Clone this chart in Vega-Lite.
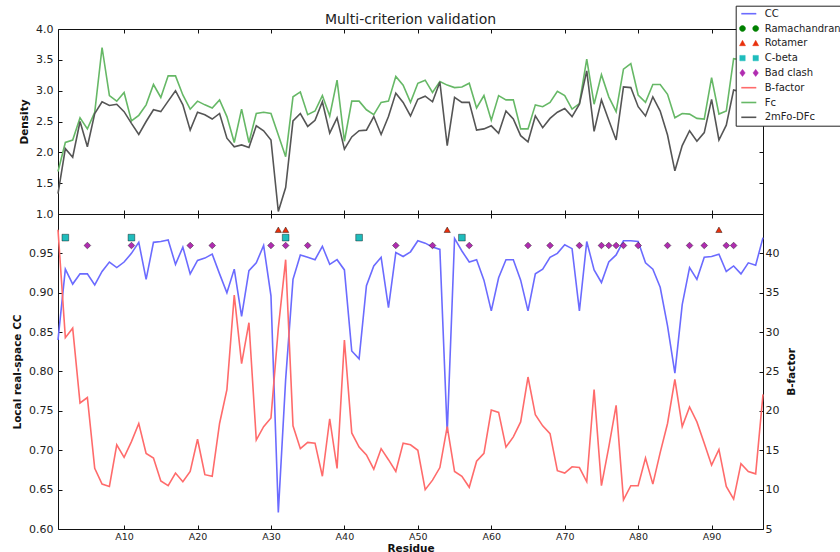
{
  "$schema": "https://vega.github.io/schema/vega-lite/v6.json",
  "autosize": {"type": "none"},
  "padding": {"left": 58, "top": 29, "right": 782, "bottom": 523},
  "background": "white",
  "bounds": "flush",
  "datasets": {
    "res": [
      {"residue":1,"fc":1.69,"twofofc":1.33,"cc":0.840,"bfac":43.0},
      {"residue":2,"fc":2.16,"twofofc":2.06,"cc":0.930,"bfac":29.3},
      {"residue":3,"fc":2.20,"twofofc":1.92,"cc":0.911,"bfac":30.5},
      {"residue":4,"fc":2.56,"twofofc":2.50,"cc":0.924,"bfac":21.0},
      {"residue":5,"fc":2.38,"twofofc":2.09,"cc":0.924,"bfac":21.7},
      {"residue":6,"fc":2.65,"twofofc":2.63,"cc":0.910,"bfac":12.7},
      {"residue":7,"fc":3.70,"twofofc":2.82,"cc":0.927,"bfac":10.7},
      {"residue":8,"fc":2.92,"twofofc":2.76,"cc":0.939,"bfac":10.4},
      {"residue":9,"fc":2.83,"twofofc":2.78,"cc":0.932,"bfac":15.7},
      {"residue":10,"fc":2.97,"twofofc":2.66,"cc":0.939,"bfac":14.1},
      {"residue":11,"fc":2.51,"twofofc":2.47,"cc":0.950,"bfac":16.1},
      {"residue":12,"fc":2.60,"twofofc":2.29,"cc":0.964,"bfac":18.4},
      {"residue":13,"fc":2.77,"twofofc":2.50,"cc":0.917,"bfac":14.6},
      {"residue":14,"fc":3.10,"twofofc":2.69,"cc":0.964,"bfac":14.0},
      {"residue":15,"fc":2.89,"twofofc":2.66,"cc":0.965,"bfac":11.1},
      {"residue":16,"fc":3.24,"twofofc":2.83,"cc":0.967,"bfac":10.5},
      {"residue":17,"fc":3.24,"twofofc":3.00,"cc":0.936,"bfac":12.1},
      {"residue":18,"fc":2.93,"twofofc":2.77,"cc":0.958,"bfac":11.0},
      {"residue":19,"fc":2.70,"twofofc":2.36,"cc":0.924,"bfac":12.3},
      {"residue":20,"fc":2.83,"twofofc":2.65,"cc":0.941,"bfac":16.4},
      {"residue":21,"fc":2.77,"twofofc":2.61,"cc":0.944,"bfac":11.9},
      {"residue":22,"fc":2.72,"twofofc":2.54,"cc":0.949,"bfac":11.7},
      {"residue":23,"fc":2.85,"twofofc":2.63,"cc":0.924,"bfac":18.4},
      {"residue":24,"fc":2.58,"twofofc":2.23,"cc":0.900,"bfac":22.7},
      {"residue":25,"fc":2.16,"twofofc":2.09,"cc":0.930,"bfac":34.7},
      {"residue":26,"fc":2.70,"twofofc":2.12,"cc":0.870,"bfac":26.0},
      {"residue":27,"fc":2.16,"twofofc":2.08,"cc":0.928,"bfac":31.2},
      {"residue":28,"fc":2.63,"twofofc":2.43,"cc":0.938,"bfac":16.3},
      {"residue":29,"fc":2.65,"twofofc":2.35,"cc":0.960,"bfac":18.0},
      {"residue":30,"fc":2.63,"twofofc":2.20,"cc":0.896,"bfac":19.1},
      {"residue":31,"fc":2.28,"twofofc":1.04,"cc":0.621,"bfac":30.5},
      {"residue":32,"fc":1.93,"twofofc":1.43,"cc":0.790,"bfac":39.2},
      {"residue":33,"fc":2.90,"twofofc":2.51,"cc":0.917,"bfac":18.1},
      {"residue":34,"fc":2.98,"twofofc":2.63,"cc":0.948,"bfac":15.2},
      {"residue":35,"fc":2.61,"twofofc":2.42,"cc":0.945,"bfac":16.0},
      {"residue":36,"fc":2.67,"twofofc":2.52,"cc":0.942,"bfac":15.9},
      {"residue":37,"fc":2.92,"twofofc":2.82,"cc":0.959,"bfac":11.7},
      {"residue":38,"fc":2.59,"twofofc":2.31,"cc":0.936,"bfac":19.0},
      {"residue":39,"fc":3.17,"twofofc":2.56,"cc":0.942,"bfac":12.7},
      {"residue":40,"fc":2.18,"twofofc":2.05,"cc":0.929,"bfac":29.0},
      {"residue":41,"fc":2.83,"twofofc":2.25,"cc":0.826,"bfac":17.2},
      {"residue":42,"fc":2.83,"twofofc":2.35,"cc":0.816,"bfac":15.4},
      {"residue":43,"fc":2.69,"twofofc":2.36,"cc":0.909,"bfac":14.4},
      {"residue":44,"fc":2.61,"twofofc":2.58,"cc":0.934,"bfac":12.6},
      {"residue":45,"fc":2.81,"twofofc":2.29,"cc":0.945,"bfac":15.2},
      {"residue":46,"fc":2.83,"twofofc":2.58,"cc":0.881,"bfac":13.8},
      {"residue":47,"fc":3.23,"twofofc":2.96,"cc":0.951,"bfac":12.3},
      {"residue":48,"fc":3.09,"twofofc":2.81,"cc":0.946,"bfac":15.9},
      {"residue":49,"fc":2.81,"twofofc":2.59,"cc":0.952,"bfac":15.7},
      {"residue":50,"fc":3.12,"twofofc":2.86,"cc":0.966,"bfac":15.0},
      {"residue":51,"fc":3.17,"twofofc":2.91,"cc":0.963,"bfac":10.0},
      {"residue":52,"fc":2.97,"twofofc":2.82,"cc":0.958,"bfac":11.2},
      {"residue":53,"fc":3.15,"twofofc":3.14,"cc":0.955,"bfac":12.8},
      {"residue":54,"fc":3.09,"twofofc":2.11,"cc":0.722,"bfac":18.0},
      {"residue":55,"fc":3.05,"twofofc":2.89,"cc":0.969,"bfac":12.3},
      {"residue":56,"fc":3.06,"twofofc":2.81,"cc":0.953,"bfac":11.7},
      {"residue":57,"fc":3.12,"twofofc":2.81,"cc":0.939,"bfac":10.3},
      {"residue":58,"fc":2.72,"twofofc":2.36,"cc":0.942,"bfac":13.6},
      {"residue":59,"fc":2.92,"twofofc":2.38,"cc":0.916,"bfac":14.6},
      {"residue":60,"fc":2.52,"twofofc":2.43,"cc":0.877,"bfac":20.1},
      {"residue":61,"fc":2.92,"twofofc":2.31,"cc":0.919,"bfac":19.8},
      {"residue":62,"fc":2.85,"twofofc":2.67,"cc":0.942,"bfac":15.4},
      {"residue":63,"fc":2.85,"twofofc":2.54,"cc":0.942,"bfac":16.7},
      {"residue":64,"fc":2.38,"twofofc":2.27,"cc":0.916,"bfac":18.6},
      {"residue":65,"fc":2.38,"twofofc":2.17,"cc":0.877,"bfac":24.3},
      {"residue":66,"fc":2.77,"twofofc":2.59,"cc":0.924,"bfac":19.5},
      {"residue":67,"fc":2.74,"twofofc":2.40,"cc":0.930,"bfac":18.1},
      {"residue":68,"fc":2.81,"twofofc":2.55,"cc":0.945,"bfac":17.1},
      {"residue":69,"fc":2.99,"twofofc":2.65,"cc":0.950,"bfac":12.4},
      {"residue":70,"fc":2.92,"twofofc":2.71,"cc":0.961,"bfac":12.1},
      {"residue":71,"fc":2.70,"twofofc":2.58,"cc":0.956,"bfac":12.9},
      {"residue":72,"fc":2.79,"twofofc":2.78,"cc":0.877,"bfac":12.8},
      {"residue":73,"fc":3.51,"twofofc":3.32,"cc":0.965,"bfac":11.0},
      {"residue":74,"fc":2.78,"twofofc":2.34,"cc":0.929,"bfac":22.7},
      {"residue":75,"fc":3.26,"twofofc":2.85,"cc":0.913,"bfac":10.5},
      {"residue":76,"fc":2.90,"twofofc":2.52,"cc":0.939,"bfac":15.4},
      {"residue":77,"fc":2.66,"twofofc":2.20,"cc":0.948,"bfac":20.7},
      {"residue":78,"fc":3.35,"twofofc":3.06,"cc":0.966,"bfac":8.7},
      {"residue":79,"fc":3.44,"twofofc":3.05,"cc":0.966,"bfac":10.5},
      {"residue":80,"fc":2.93,"twofofc":2.74,"cc":0.965,"bfac":10.5},
      {"residue":81,"fc":2.81,"twofofc":2.59,"cc":0.938,"bfac":14.0},
      {"residue":82,"fc":3.10,"twofofc":2.90,"cc":0.930,"bfac":10.7},
      {"residue":83,"fc":3.10,"twofofc":2.67,"cc":0.907,"bfac":14.7},
      {"residue":84,"fc":2.94,"twofofc":2.28,"cc":0.858,"bfac":18.4},
      {"residue":85,"fc":2.56,"twofofc":1.70,"cc":0.798,"bfac":24.0},
      {"residue":86,"fc":2.63,"twofofc":2.11,"cc":0.885,"bfac":18.0},
      {"residue":87,"fc":2.62,"twofofc":2.35,"cc":0.932,"bfac":20.5},
      {"residue":88,"fc":2.55,"twofofc":2.18,"cc":0.917,"bfac":18.6},
      {"residue":89,"fc":2.54,"twofofc":2.32,"cc":0.945,"bfac":15.9},
      {"residue":90,"fc":3.21,"twofofc":2.86,"cc":0.946,"bfac":13.1},
      {"residue":91,"fc":2.62,"twofofc":2.20,"cc":0.949,"bfac":15.1},
      {"residue":92,"fc":2.67,"twofofc":2.44,"cc":0.927,"bfac":10.4},
      {"residue":93,"fc":3.52,"twofofc":3.01,"cc":0.934,"bfac":8.8},
      {"residue":94,"fc":3.50,"twofofc":2.98,"cc":0.924,"bfac":13.3},
      {"residue":95,"fc":3.45,"twofofc":2.95,"cc":0.938,"bfac":12.3},
      {"residue":96,"fc":3.55,"twofofc":3.05,"cc":0.935,"bfac":12.0},
      {"residue":97,"fc":3.60,"twofofc":3.10,"cc":0.970,"bfac":22.1}
    ],
    "flags": [
      {"residue":31,"kind":"Rotamer"},
      {"residue":32,"kind":"Rotamer"},
      {"residue":54,"kind":"Rotamer"},
      {"residue":91,"kind":"Rotamer"},
      {"residue":2,"kind":"C-beta"},
      {"residue":11,"kind":"C-beta"},
      {"residue":32,"kind":"C-beta"},
      {"residue":42,"kind":"C-beta"},
      {"residue":56,"kind":"C-beta"},
      {"residue":5,"kind":"Bad clash"},
      {"residue":11,"kind":"Bad clash"},
      {"residue":19,"kind":"Bad clash"},
      {"residue":22,"kind":"Bad clash"},
      {"residue":30,"kind":"Bad clash"},
      {"residue":32,"kind":"Bad clash"},
      {"residue":35,"kind":"Bad clash"},
      {"residue":47,"kind":"Bad clash"},
      {"residue":52,"kind":"Bad clash"},
      {"residue":57,"kind":"Bad clash"},
      {"residue":65,"kind":"Bad clash"},
      {"residue":68,"kind":"Bad clash"},
      {"residue":72,"kind":"Bad clash"},
      {"residue":75,"kind":"Bad clash"},
      {"residue":76,"kind":"Bad clash"},
      {"residue":77,"kind":"Bad clash"},
      {"residue":78,"kind":"Bad clash"},
      {"residue":80,"kind":"Bad clash"},
      {"residue":84,"kind":"Bad clash"},
      {"residue":87,"kind":"Bad clash"},
      {"residue":89,"kind":"Bad clash"},
      {"residue":92,"kind":"Bad clash"},
      {"residue":93,"kind":"Bad clash"}
    ]
  },
  "spacing": 0,
  "vconcat": [
    {
      "width": 705,
      "height": 185,
      "title": {"text": "Multi-criterion validation", "fontSize": 14, "fontWeight": "normal", "font": "DejaVu Sans", "color": "#222", "anchor": "middle", "offset": -3.5},
      "data": {"name": "res"},
      "layer": [
        {
          "mark": {"type": "line", "strokeWidth": 1.6},
          "encoding": {
            "x": {"field": "residue", "type": "quantitative", "scale": {"domain": [1, 97], "nice": false, "zero": false},
                  "axis": {"orient": "bottom", "values": [10, 20, 30, 40, 50, 60, 70, 80, 90], "labels": false, "title": null}},
            "y": {"field": "fc", "type": "quantitative", "scale": {"domain": [1, 4], "nice": false, "zero": false},
                  "axis": {"orient": "left", "values": [1, 1.5, 2, 2.5, 3, 3.5, 4], "format": ".1f", "title": "Density"}},
            "color": {
              "datum": "Fc", "type": "nominal", "title": null,
              "scale": {
                "domain": ["CC", "Ramachandran", "Rotamer", "C-beta", "Bad clash", "B-factor", "Fc", "2mFo-DFc"],
                "range": ["#6b6bff", "#008000", "#e8300c", "#1fbcbc", "#b02cb0", "#ff6b6b", "#66b866", "#555555"]
              },
              "legend": {
                "title": null,
                "encoding": {
                  "symbols": {
                    "shape": {"value": {"expr": "datum.value === 'Ramachandran' ? 'M-0.7,0A0.5,0.5 0 1,0 0.3,0A0.5,0.5 0 1,0 -0.7,0Z M1.5,0A0.5,0.5 0 1,0 2.5,0A0.5,0.5 0 1,0 1.5,0Z' : datum.value === 'Rotamer' ? 'M-0.2,-0.5L0.3,0.4L-0.7,0.4Z M2,-0.5L2.5,0.4L1.5,0.4Z' : datum.value === 'C-beta' ? 'M-0.65,-0.45H0.25V0.45H-0.65Z M1.55,-0.45H2.45V0.45H1.55Z' : datum.value === 'Bad clash' ? 'M-0.2,-0.6L0.25,0L-0.2,0.6L-0.65,0Z M2,-0.6L2.45,0L2,0.6L1.55,0Z' : 'M-0.4,0L2.1,0'"}},
                    "size": {"value": 144},
                    "fill": {"value": {"expr": "indexof(['CC','B-factor','Fc','2mFo-DFc'], datum.value) >= 0 ? 'transparent' : scale('color', datum.value)"}},
                    "stroke": {"value": {"expr": "indexof(['CC','B-factor','Fc','2mFo-DFc'], datum.value) >= 0 ? scale('color', datum.value) : '#000000'"}},
                    "strokeWidth": {"value": {"expr": "indexof(['CC','B-factor','Fc','2mFo-DFc'], datum.value) >= 0 ? 1.6 : 0.5"}},
                    "opacity": {"value": 1}
                  }
                }
              }
            }
          }
        },
        {
          "mark": {"type": "line", "strokeWidth": 1.6},
          "encoding": {
            "x": {"field": "residue", "type": "quantitative", "scale": {"domain": [1, 97], "nice": false, "zero": false},
                  "axis": {"orient": "top", "values": [10, 20, 30, 40, 50, 60, 70, 80, 90], "labels": false, "title": null}},
            "y": {"field": "twofofc", "type": "quantitative", "scale": {"domain": [1, 4], "nice": false, "zero": false},
                  "axis": {"orient": "right", "values": [1, 1.5, 2, 2.5, 3, 3.5, 4], "labels": false, "title": null}},
            "color": {"datum": "2mFo-DFc", "type": "nominal", "title": null}
          }
        }
      ],
      "resolve": {"scale": {"x": "independent", "y": "independent"}}
    },
    {
      "width": 705,
      "height": 315,
      "layer": [
        {
          "layer": [
            {
              "data": {"name": "res"},
              "mark": {"type": "line", "strokeWidth": 1.6},
              "encoding": {
                "x": {"field": "residue", "type": "quantitative", "scale": {"domain": [1, 97], "nice": false, "zero": false},
                      "axis": {"orient": "bottom", "values": [10, 20, 30, 40, 50, 60, 70, 80, 90], "labelExpr": "'A' + datum.value", "labelFontSize": 9.5, "labelPadding": 6.5, "title": "Residue", "titlePadding": 2}},
                "y": {"field": "cc", "type": "quantitative", "scale": {"domain": [0.6, 1.0], "nice": false, "zero": false},
                      "axis": {"orient": "left", "values": [0.6, 0.65, 0.7, 0.75, 0.8, 0.85, 0.9, 0.95], "format": ".2f", "title": "Local real-space CC"}},
                "color": {"datum": "CC", "type": "nominal", "title": null}
              }
            },
            {
              "data": {"name": "flags"},
              "transform": [{"filter": "datum.kind === 'Rotamer'"}],
              "mark": {"type": "point", "shape": "triangle-up", "filled": true, "size": 40, "stroke": "#000", "strokeWidth": 0.4, "opacity": 1},
              "encoding": {
                "x": {"field": "residue", "type": "quantitative", "title": "Residue"},
                "y": {"datum": 0.98, "type": "quantitative"},
                "color": {"field": "kind", "type": "nominal", "title": null}
              }
            },
            {
              "data": {"name": "flags"},
              "transform": [{"filter": "datum.kind === 'C-beta'"}],
              "mark": {"type": "point", "shape": "square", "filled": true, "size": 45, "stroke": "#000", "strokeWidth": 0.4, "opacity": 1},
              "encoding": {
                "x": {"field": "residue", "type": "quantitative", "title": "Residue"},
                "y": {"datum": 0.97, "type": "quantitative"},
                "color": {"field": "kind", "type": "nominal", "title": null}
              }
            },
            {
              "data": {"name": "flags"},
              "transform": [{"filter": "datum.kind === 'Bad clash'"}],
              "mark": {"type": "point", "shape": "diamond", "filled": true, "size": 45, "stroke": "#000", "strokeWidth": 0.4, "opacity": 1},
              "encoding": {
                "x": {"field": "residue", "type": "quantitative", "title": "Residue"},
                "y": {"datum": 0.96, "type": "quantitative"},
                "color": {"field": "kind", "type": "nominal", "title": null}
              }
            }
          ]
        },
        {
          "data": {"name": "res"},
          "mark": {"type": "line", "strokeWidth": 1.6},
          "encoding": {
            "x": {"field": "residue", "type": "quantitative", "scale": {"domain": [1, 97], "nice": false, "zero": false},
                  "axis": {"orient": "top", "values": [10, 20, 30, 40, 50, 60, 70, 80, 90], "labels": false, "title": null}},
            "y": {"field": "bfac", "type": "quantitative", "scale": {"domain": [5, 45], "nice": false, "zero": false},
                  "axis": {"orient": "right", "values": [5, 10, 15, 20, 25, 30, 35, 40], "format": "d", "labelAlign": "left", "labelPadding": 6, "title": "B-factor", "titleAngle": -90, "titleX": 33.5}},
            "color": {"datum": "B-factor", "type": "nominal", "title": null}
          }
        }
      ],
      "resolve": {"scale": {"x": "independent", "y": "independent"}}
    }
  ],
  "config": {
    "font": "DejaVu Sans",
    "view": {"stroke": "#111", "strokeWidth": 1},
    "axis": {
      "grid": false, "domain": false,
      "ticks": true, "tickColor": "#111", "tickSize": -4, "tickWidth": 1,
      "labelPadding": 9, "labelFont": "DejaVu Sans", "labelFontSize": 11, "labelColor": "#222",
      "titleFont": "DejaVu Sans", "titleFontSize": 10.5, "titleFontWeight": "bold", "titleColor": "#111", "titlePadding": 6
    },
    "legend": {
      "orient": "none", "legendX": 677.7, "legendY": -23.3,
      "symbolSize": 144, "rowPadding": 4.8, "padding": 3, "labelOffset": 16,
      "labelFont": "DejaVu Sans", "labelFontSize": 10, "labelColor": "#222",
      "strokeColor": "#222", "fillColor": "white", "cornerRadius": 0
    }
  }
}
